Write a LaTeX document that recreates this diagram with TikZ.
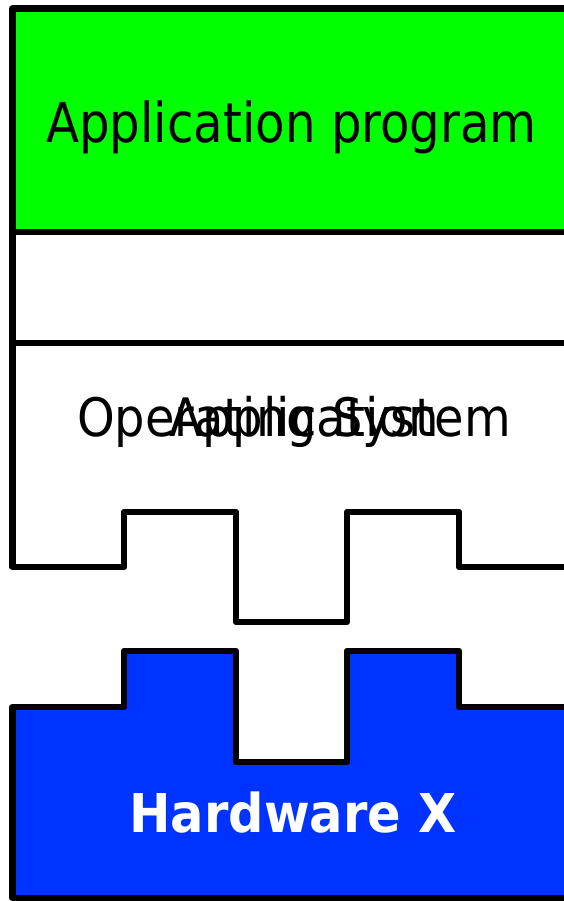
\documentclass[tikz,border=0pt]{standalone}
\usepackage{graphicx}
\usepackage{fontspec}
\setmainfont{DejaVu Sans}
\definecolor{appgreen}{RGB}{0,255,0}
\definecolor{hwblue}{RGB}{0,51,255}
\tikzset{
  outline/.style={draw=black, line width=6.5pt, line join=round, line cap=round},
  label/.style={inner sep=0pt, anchor=base}
}
\begin{document}
\begin{tikzpicture}[x=1pt, y=-1pt]
\useasboundingbox (0,0) rectangle (564,901);
\clip (0,0) rectangle (564,901);
\fill[white] (0,0) rectangle (564,901);
% application program box
\fill[appgreen] (12.5,8.5) rectangle (580,232);
% operating system outline
\draw[outline] (580,8.5) -- (12.5,8.5) -- (12.5,567) -- (124,567) -- (124,512)
  -- (236,512) -- (236,622) -- (347,622) -- (347,512) -- (459,512) -- (459,567) -- (580,567);
\draw[outline] (12.5,232) -- (580,232);
\draw[outline] (12.5,343) -- (580,343);
% hardware
\filldraw[outline, fill=hwblue] (580,707) -- (459,707) -- (459,651) -- (347,651) -- (347,762)
  -- (236,762) -- (236,651) -- (124,651) -- (124,707) -- (12.5,707) -- (12.5,898)
  -- (580,898);
% texts
\node[label] (app) at (291.5,143) {\fontsize{55}{60}\selectfont\scalebox{0.877}[1]{Application program}};
\node[label] (os) at (294,436) {\fontsize{53}{58}\selectfont\scalebox{0.905}[1]{Operating System}};
\node[label] (app2) at (304,436) {\fontsize{53}{58}\selectfont\scalebox{0.91}[1]{Application}};
\node[label, text=white] (hw) at (293,832) {\fontsize{53.5}{60}\selectfont\bfseries\scalebox{0.925}[1]{Hardware X}};
\end{tikzpicture}
\end{document}
